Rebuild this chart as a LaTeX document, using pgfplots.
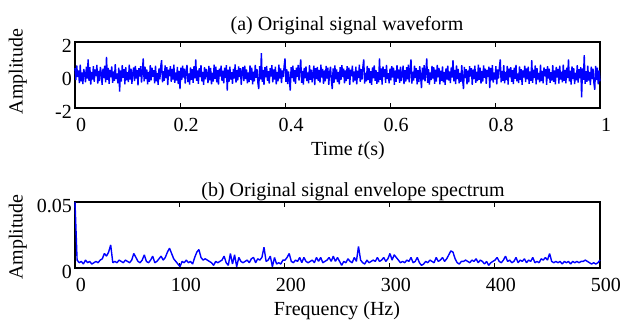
\documentclass[border=0pt]{standalone}
\usepackage{fontspec}
\setmainfont{Liberation Serif}
\usepackage{pgfplots}
\usepackage{pgfplotstable}
\pgfplotsset{compat=1.18}
% time signal, 601 samples over 0..1 s
\pgfplotstableread[row sep=\\]{a\\
0.42\\ -0.31\\ 0.58\\ -0.12\\ 0.27\\ -0.49\\ 0.63\\ -0.38\\ 0.15\\ -0.55\\ 0.36\\ 0.08\\ -0.44\\ 0.51\\ -0.22\\ 0.95\\ -0.35\\ 0.47\\ -0.58\\ 0.19\\
-0.27\\ 0.54\\ -0.41\\ 0.33\\ -0.06\\ 0.61\\ -0.52\\ 0.24\\ -0.37\\ 0.49\\ 0.12\\ -0.60\\ 0.39\\ -0.18\\ 0.57\\ -0.45\\ 1.10\\ -0.29\\ 0.43\\ -0.53\\
0.31\\ -0.14\\ 0.52\\ -0.47\\ 0.21\\ -0.36\\ 0.66\\ -0.25\\ 0.09\\ -0.51\\ 0.44\\ -1.00\\ 0.28\\ -0.40\\ 0.59\\ -0.17\\ 0.35\\ -0.56\\ 0.48\\ -0.32\\
0.17\\ -0.43\\ 0.62\\ -0.28\\ 0.39\\ -0.54\\ 0.11\\ 0.46\\ -0.37\\ 0.55\\ -0.21\\ 0.30\\ -0.62\\ 0.41\\ -0.09\\ 0.53\\ -0.46\\ 0.26\\ 1.00\\ -0.39\\
0.50\\ -0.24\\ 0.34\\ -0.57\\ 0.18\\ -0.42\\ 0.60\\ -0.33\\ 0.45\\ -0.11\\ 0.29\\ -0.50\\ 0.56\\ -0.38\\ 0.13\\ -0.59\\ 0.40\\ -0.26\\ 0.52\\ 0.90\\
-0.45\\ 0.23\\ -0.35\\ 0.58\\ -0.19\\ 0.47\\ -0.61\\ 0.32\\ -0.08\\ 0.54\\ -0.41\\ 0.37\\ -0.27\\ 0.63\\ -0.48\\ 0.16\\ -0.34\\ 0.49\\ -0.55\\ 0.25\\
-0.85\\ 0.44\\ -0.30\\ 0.57\\ -0.16\\ 0.38\\ -0.52\\ 0.22\\ 0.61\\ -0.43\\ 0.10\\ -0.58\\ 0.46\\ -0.29\\ 0.35\\ -0.47\\ 0.53\\ -0.20\\ 0.95\\ -0.36\\
0.28\\ -0.53\\ 0.41\\ -0.13\\ 0.59\\ -0.39\\ 0.19\\ -0.60\\ 0.48\\ -0.26\\ 0.36\\ 0.07\\ -0.49\\ 0.55\\ -0.32\\ 0.43\\ -0.57\\ 0.14\\ -0.40\\ 0.62\\
-0.23\\ 0.51\\ -0.44\\ 0.30\\ -0.58\\ 0.39\\ -0.10\\ 0.57\\ -0.35\\ 0.26\\ -0.51\\ 0.45\\ -0.18\\ 0.60\\ -0.95\\ 0.33\\ -0.42\\ 0.50\\ -0.28\\ 0.17\\
-0.54\\ 0.37\\ -0.21\\ 0.64\\ -0.46\\ 0.29\\ -0.33\\ 0.52\\ -0.12\\ 0.41\\ -0.59\\ 0.24\\ 0.48\\ -0.37\\ 0.56\\ -0.25\\ 0.34\\ -0.50\\ 0.15\\ -0.43\\
0.58\\ -0.30\\ 0.44\\ -0.56\\ 0.20\\ -0.39\\ 0.61\\ -0.17\\ 0.36\\ -0.48\\ -0.85\\ 0.53\\ -0.27\\ 1.33\\ -0.41\\ 0.31\\ -0.60\\ 0.47\\ -0.14\\ 0.55\\
-0.36\\ 0.23\\ -0.52\\ 0.42\\ -0.09\\ 0.60\\ -0.45\\ 0.34\\ -0.28\\ 0.51\\ -0.57\\ 0.18\\ -0.38\\ 0.63\\ -0.22\\ 0.40\\ -0.49\\ 0.27\\ -0.13\\ 0.54\\
1.00\\ -0.42\\ 0.35\\ -0.55\\ 0.22\\ -0.31\\ -0.95\\ 0.48\\ -0.19\\ 0.57\\ -0.40\\ 0.29\\ -0.53\\ 0.44\\ -0.11\\ 0.61\\ -0.34\\ 0.38\\ 0.95\\ -0.47\\
0.25\\ -0.58\\ 0.43\\ -0.20\\ 0.52\\ -0.37\\ 0.16\\ -0.50\\ 0.59\\ -0.29\\ 0.33\\ -0.44\\ 0.06\\ 0.56\\ -0.61\\ 0.41\\ -0.24\\ 0.49\\ -0.35\\ 0.30\\
-0.46\\ 0.62\\ -0.15\\ 0.37\\ -0.53\\ 0.27\\ -0.39\\ 0.55\\ -0.21\\ 0.45\\ -0.59\\ 0.12\\ 0.50\\ -0.32\\ -0.85\\ 0.40\\ -0.48\\ 0.58\\ -0.26\\ 0.34\\
-0.43\\ 0.19\\ -0.56\\ 0.47\\ -0.30\\ 0.60\\ -0.12\\ 0.39\\ -0.51\\ 0.28\\ -0.37\\ 0.53\\ -0.23\\ 0.44\\ -0.60\\ 0.32\\ -0.08\\ 0.57\\ -0.45\\ 0.21\\
-0.34\\ 0.50\\ -0.57\\ 0.26\\ -0.18\\ 0.63\\ -0.41\\ 0.36\\ -0.27\\ 0.48\\ 0.95\\ -0.52\\ 0.14\\ -0.39\\ 0.55\\ -0.31\\ 0.42\\ -0.49\\ 0.23\\ -0.60\\
0.46\\ -0.20\\ 0.58\\ -0.36\\ 0.30\\ -0.54\\ 0.17\\ -0.44\\ 1.00\\ -0.29\\ 0.40\\ -0.58\\ 0.52\\ -0.13\\ 0.35\\ -0.47\\ 0.61\\ -0.25\\ 0.11\\ -0.50\\
0.38\\ -0.33\\ 0.54\\ -0.16\\ 0.45\\ -0.59\\ 0.27\\ -0.42\\ 0.60\\ -0.21\\ 0.33\\ -0.48\\ 0.51\\ -0.37\\ 0.09\\ 0.56\\ -0.55\\ 0.29\\ -0.40\\ 0.47\\
-0.26\\ 0.62\\ -0.45\\ 0.35\\ 0.95\\ -0.52\\ 0.20\\ -0.34\\ 0.57\\ -0.18\\ 0.41\\ -0.56\\ 0.30\\ -0.43\\ 0.53\\ -0.11\\ -0.80\\ 0.44\\ -0.28\\ 0.59\\
-0.39\\ 0.24\\ 1.00\\ -0.47\\ 0.36\\ -0.58\\ 0.15\\ -0.31\\ 0.55\\ -0.22\\ 0.48\\ -0.53\\ 0.32\\ -0.40\\ 0.61\\ -0.14\\ 0.43\\ -0.57\\ 0.26\\ -0.35\\
0.52\\ -0.45\\ 0.18\\ -0.60\\ 0.40\\ -0.27\\ 0.57\\ -0.33\\ 0.22\\ -0.49\\ 0.46\\ -0.16\\ 0.90\\ -0.38\\ 0.31\\ -0.55\\ 0.58\\ -0.24\\ 0.37\\ -0.51\\
0.13\\ -0.42\\ 0.60\\ -0.30\\ -0.85\\ 0.49\\ -0.19\\ 0.35\\ -0.56\\ 0.27\\ -0.44\\ 0.54\\ -0.09\\ 0.41\\ -0.59\\ 0.33\\ -0.25\\ 0.56\\ -0.48\\ 0.20\\
-0.37\\ 0.63\\ -0.29\\ 0.45\\ -0.52\\ 0.24\\ -0.40\\ 0.58\\ -0.17\\ 0.38\\ -0.54\\ 0.30\\ -0.12\\ 0.50\\ -0.80\\ 0.43\\ -0.33\\ 0.59\\ -0.46\\ 0.16\\
-0.28\\ 0.53\\ -0.57\\ 0.34\\ -0.21\\ 0.47\\ 0.95\\ -0.44\\ 0.25\\ -0.36\\ 0.60\\ -0.50\\ 0.19\\ -0.31\\ 0.55\\ -0.58\\ 0.39\\ -0.14\\ 0.48\\ -0.42\\
0.29\\ -0.55\\ 0.44\\ -0.23\\ 0.61\\ -0.38\\ 0.10\\ -0.49\\ 0.52\\ -0.30\\ 0.36\\ -0.60\\ 0.27\\ -0.16\\ 0.57\\ -0.43\\ 0.40\\ -0.26\\ 0.50\\ -0.53\\
0.21\\ -0.35\\ 0.90\\ -0.47\\ 0.32\\ -0.19\\ 0.58\\ -0.56\\ 0.42\\ -0.28\\ 0.13\\ -0.45\\ 0.62\\ -0.37\\ 0.24\\ -0.51\\ 0.46\\ -0.08\\ 0.35\\ -0.59\\
0.54\\ -0.22\\ 0.39\\ -0.48\\ 0.17\\ -0.33\\ 0.60\\ -0.41\\ 0.28\\ -0.57\\ 0.49\\ -0.15\\ 0.37\\ -0.52\\ 0.56\\ -0.27\\ 0.20\\ -0.44\\ 0.63\\ -0.36\\
0.31\\ -0.50\\ 0.45\\ -0.18\\ 0.95\\ -0.39\\ 0.26\\ -0.58\\ 0.52\\ -0.24\\ 0.41\\ -0.55\\ 0.14\\ -0.32\\ 0.59\\ -0.46\\ 0.35\\ -0.20\\ 0.48\\ -1.35\\
0.40\\ -0.29\\ 1.20\\ -0.53\\ 0.23\\ -0.42\\ 0.57\\ -0.34\\ 0.18\\ -0.61\\ 0.50\\ -0.25\\ 0.38\\ -0.47\\ -0.90\\ 0.55\\ -0.31\\ 0.44\\ -0.56\\ 0.27\\
-0.38\\
}\sig
% envelope spectrum, 2 Hz steps, 0..500 Hz
\pgfplotstableread[row sep=\\]{a\\
0.050\\ 0.006\\ 0.004\\ 0.005\\ 0.003\\ 0.006\\ 0.004\\ 0.005\\ 0.003\\ 0.004\\
0.005\\ 0.004\\ 0.006\\ 0.007\\ 0.011\\ 0.009\\ 0.012\\ 0.0175\\ 0.004\\ 0.005\\
0.004\\ 0.006\\ 0.005\\ 0.004\\ 0.006\\ 0.005\\ 0.004\\ 0.006\\ 0.011\\ 0.008\\
0.005\\ 0.004\\ 0.006\\ 0.010\\ 0.005\\ 0.004\\ 0.006\\ 0.009\\ 0.004\\ 0.005\\
0.007\\ 0.009\\ 0.006\\ 0.008\\ 0.012\\ 0.015\\ 0.011\\ 0.007\\ 0.005\\ 0.003\\
0.001\\ 0.005\\ 0.004\\ 0.006\\ 0.004\\ 0.005\\ 0.003\\ 0.008\\ 0.012\\ 0.014\\
0.008\\ 0.006\\ 0.007\\ 0.006\\ 0.005\\ 0.004\\ 0.002\\ 0.005\\ 0.004\\ 0.005\\
0.006\\ 0.009\\ 0.004\\ 0.002\\ 0.011\\ 0.003\\ 0.010\\ 0.001\\ 0.008\\ 0.005\\
0.004\\ 0.005\\ 0.006\\ 0.004\\ 0.007\\ 0.008\\ 0.004\\ 0.007\\ 0.006\\ 0.008\\
0.0157\\ 0.005\\ 0.006\\ 0.009\\ 0.001\\ 0.008\\ 0.003\\ 0.004\\ 0.003\\ 0.006\\
0.006\\ 0.008\\ 0.011\\ 0.005\\ 0.004\\ 0.006\\ 0.005\\ 0.008\\ 0.004\\ 0.008\\
0.005\\ 0.004\\ 0.005\\ 0.006\\ 0.004\\ 0.008\\ 0.005\\ 0.008\\ 0.004\\ 0.005\\
0.006\\ 0.008\\ 0.005\\ 0.009\\ 0.005\\ 0.008\\ 0.005\\ 0.002\\ 0.005\\ 0.004\\
0.007\\ 0.005\\ 0.004\\ 0.008\\ 0.005\\ 0.0164\\ 0.006\\ 0.004\\ 0.003\\ 0.006\\
0.004\\ 0.005\\ 0.006\\ 0.005\\ 0.008\\ 0.005\\ 0.006\\ 0.008\\ 0.005\\ 0.007\\
0.011\\ 0.006\\ 0.010\\ 0.008\\ 0.006\\ 0.004\\ 0.005\\ 0.004\\ 0.006\\ 0.005\\
0.008\\ 0.004\\ 0.005\\ 0.008\\ 0.004\\ 0.002\\ 0.003\\ 0.005\\ 0.004\\ 0.006\\
0.005\\ 0.004\\ 0.008\\ 0.005\\ 0.006\\ 0.008\\ 0.005\\ 0.007\\ 0.010\\ 0.013\\
0.012\\ 0.007\\ 0.004\\ 0.003\\ 0.005\\ 0.005\\ 0.006\\ 0.005\\ 0.004\\ 0.006\\
0.005\\ 0.007\\ 0.004\\ 0.006\\ 0.005\\ 0.003\\ 0.005\\ 0.002\\ 0.004\\ 0.005\\
0.006\\ 0.008\\ 0.005\\ 0.004\\ 0.006\\ 0.009\\ 0.005\\ 0.006\\ 0.004\\ 0.005\\
0.008\\ 0.004\\ 0.006\\ 0.005\\ 0.007\\ 0.004\\ 0.006\\ 0.005\\ 0.008\\ 0.004\\
0.005\\ 0.004\\ 0.007\\ 0.006\\ 0.008\\ 0.006\\ 0.011\\ 0.005\\ 0.004\\ 0.005\\
0.004\\ 0.005\\ 0.003\\ 0.005\\ 0.004\\ 0.005\\ 0.003\\ 0.005\\ 0.004\\ 0.005\\
0.004\\ 0.005\\ 0.005\\ 0.006\\ 0.005\\ 0.004\\ 0.003\\ 0.004\\ 0.003\\ 0.004\\
0.006\\
}\spec
\pgfplotsset{
  myax/.style={
    scale only axis, width=525pt, height=66pt,
    tick align=inside, major tick length=5pt,
    axis line style={line width=1.6pt},
    every tick/.append style={black, line width=1pt},
    clip=false, scaled ticks=false,
    /pgf/number format/assume math mode=true,
    ticklabel style={font=\fontsize{20}{24}\selectfont},
    xticklabel style={inner ysep=0pt, yshift=-10pt, xshift=6pt},
    yticklabel style={inner xsep=0pt, xshift=-3pt, yshift=-4pt},
  }
}
\begin{document}
\fontsize{20}{24}\selectfont
\begin{tikzpicture}
\path[use as bounding box] (0pt,0pt) rectangle (624pt,-322pt);
\begin{axis}[myax, at={(75pt,-42pt)}, anchor=north west,
  xmin=0, xmax=1, ymin=-2, ymax=2,
  xtick={0,0.2,0.4,0.6,0.8,1}, xticklabels={0,0.2,0.4,0.6,0.8,1},
  ytick={-2,0,2}, yticklabels={-2,0,2}]
\addplot[blue, line width=1.4pt, line join=bevel] table[x expr=\coordindex/600, y=a]{\sig};
\end{axis}
\begin{axis}[myax, at={(75pt,-202pt)}, anchor=north west,
  xmin=0, xmax=500, ymin=0, ymax=0.05,
  xtick={0,100,200,300,400,500}, xticklabels={0,100,200,300,400,500},
  ytick={0,0.05}, yticklabels={0,0.05}]
\addplot[blue, line width=1.4pt, line join=bevel] table[x expr=\coordindex*2, y=a]{\spec};
\end{axis}
\node[anchor=base] at (347pt,-30pt) {(a) Original signal waveform};
\node[anchor=base] at (348pt,-155pt) {Time \textit{t}(s)};
\node[anchor=base,rotate=90] at (22.5pt,-71.5pt) {Amplitude};
\node[anchor=base] at (353pt,-196pt) {(b) Original signal envelope spectrum};
\node[anchor=base] at (337pt,-315pt) {Frequency (Hz)};
\node[anchor=base,rotate=90] at (22.5pt,-237pt) {Amplitude};
\end{tikzpicture}
\end{document}
